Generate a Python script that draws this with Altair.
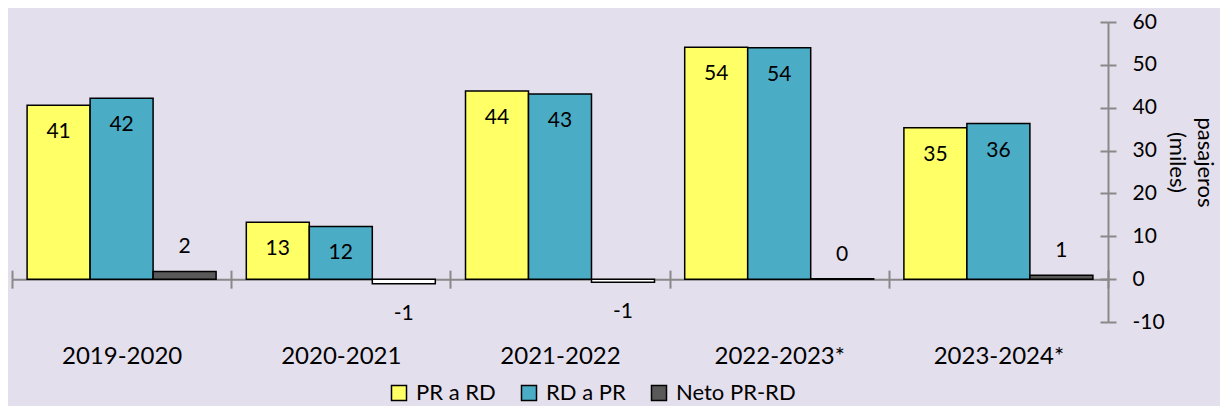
import altair as alt
import pandas as pd

years = ["2019-2020", "2020-2021", "2021-2022", "2022-2023*", "2023-2024*"]
pr_a_rd = [40.6, 13.3, 43.9, 54.1, 35.3]
rd_a_pr = [42.2, 12.3, 43.2, 54.0, 36.3]
neto = [1.8, -1.1, -0.7, 0.1, 0.9]
series = ["PR a RD", "RD a PR", "Neto PR-RD"]
colors = ["#FFFF66", "#4BACC6", "#595959"]
y_ticks = [-10, 0, 10, 20, 30, 40, 50, 60]

rows = []
for i, yr in enumerate(years):
    for s, vals in zip(series, [pr_a_rd, rd_a_pr, neto]):
        rows.append({"year": yr, "serie": s, "value": vals[i],
                     "label": f"{vals[i]:.0f}"})
df = pd.DataFrame(rows)

FONT = "Lato"
W, H = 1096, 300
Y0 = H * 60 / 70  # pixel position of zero from top
AX = "#898989"

xscale = alt.Scale(paddingInner=0, paddingOuter=0)
yscale = alt.Scale(domain=[-10, 60], nice=False, zero=False)
xoff = alt.XOffset("serie:N", sort=series,
                   scale=alt.Scale(paddingInner=0, paddingOuter=0.2397))

base = alt.Chart(df)

bars = base.mark_bar(stroke="black", strokeWidth=1.5).encode(
    x=alt.X("year:N", sort=years, scale=xscale, title=None,
            axis=alt.Axis(orient="bottom", offset=-(H - Y0), domainColor=AX,
                          domainWidth=2, tickBand="extent", tickColor=AX,
                          tickWidth=2, tickSize=9, labelFont=FONT,
                          labelFontSize=24, labelColor="black",
                          labelPadding=68, labelBaseline="middle",
                          labelAngle=0)),
    xOffset=xoff,
    y=alt.Y("value:Q", scale=yscale,
            axis=alt.Axis(orient="right", values=y_ticks, domainColor=AX,
                          domainWidth=2, tickColor=AX, tickWidth=2, tickSize=8,
                          labelFont=FONT, labelFontSize=21, labelColor="black",
                          labelPadding=16, grid=False,
                          labelExpr="replace(datum.label, '\u2212', '-')",
                          title=["pasajeros", "(miles)"], titleAngle=90,
                          titleFont=FONT, titleFontSize=22,
                          titleFontWeight="normal", titleColor="black",
                          titleLineHeight=28, titlePadding=0, titleY=140)),
    fill=alt.condition(alt.datum.value < 0, alt.value("white"),
                       alt.Color("serie:N", sort=series,
                                 scale=alt.Scale(domain=series, range=colors),
                                 legend=alt.Legend(orient="none", direction="horizontal",
                                                   legendX=376, legendY=360,
                                                   title=None, symbolType="square",
                                                   symbolSize=225, symbolStrokeColor="black",
                                                   symbolStrokeWidth=1.5,
                                                   labelFont=FONT, labelFontSize=22,
                                                   labelColor="black", labelOffset=6,
                                                   columnPadding=22, padding=0))),
)

ticks_top = base.mark_point(opacity=0).encode(
    x=alt.X("year:N", sort=years, scale=xscale, title=None,
            axis=alt.Axis(orient="top", offset=-Y0, domain=False, labels=False,
                          tickBand="extent", tickColor=AX, tickWidth=2,
                          tickSize=9)),
    y=alt.Y("value:Q", scale=yscale,
            axis=alt.Axis(orient="left", offset=-W, values=y_ticks, domain=False,
                          labels=False, tickColor=AX, tickWidth=2, tickSize=8,
                          grid=False, title=None)),
)


def label_layer(filt, dy):
    return base.transform_filter(filt).mark_text(
        font=FONT, fontSize=21, color="black", baseline="middle", dy=dy
    ).encode(
        x=alt.X("year:N", sort=years, scale=xscale, axis=None),
        xOffset=xoff,
        y=alt.Y("value:Q", scale=yscale, axis=None),
        text="label:N",
    )


main_text = label_layer(alt.datum.serie != "Neto PR-RD", 27)
neto_pos = label_layer((alt.datum.serie == "Neto PR-RD") & (alt.datum.value >= 0), -24)
neto_neg = label_layer((alt.datum.serie == "Neto PR-RD") & (alt.datum.value < 0), 30)

chart = alt.layer(bars, ticks_top, main_text, neto_pos, neto_neg).properties(
    width=W, height=H,
    autosize=alt.AutoSizeParams(type="none"),
    padding={"left": 4, "top": 14, "right": 112, "bottom": 84},
    background="#E4DFEC",
    title=alt.TitleParams("Figura 4. Pasajeros en ferri, por año fiscal: 2019-2024",
                          font=FONT, fontSize=25, fontWeight="bold", color="black",
                          anchor="middle", baseline="bottom", offset=0, dy=-2, dx=70),
).configure_view(stroke=None)

chart.save("out.html", embed_options={"renderer": "svg", "actions": False})
